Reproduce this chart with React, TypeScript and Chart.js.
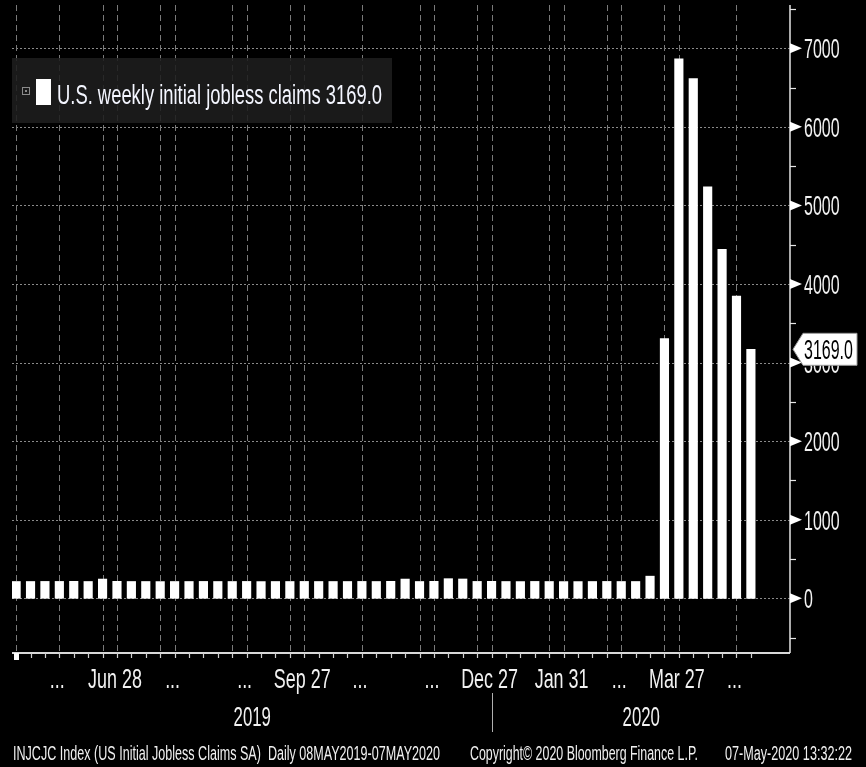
import React, { useEffect, useRef } from "react";
import { Chart, registerables } from "chart.js";

Chart.register(...registerables);

// ---------- data ----------
const START_DATE = "2019-05-08";
const END_DATE = "2020-05-20";

const weekDates = [
  "2019-05-10", "2019-05-17", "2019-05-24", "2019-05-31",
  "2019-06-07", "2019-06-14", "2019-06-21", "2019-06-28",
  "2019-07-05", "2019-07-12", "2019-07-19", "2019-07-26",
  "2019-08-02", "2019-08-09", "2019-08-16", "2019-08-23", "2019-08-30",
  "2019-09-06", "2019-09-13", "2019-09-20", "2019-09-27",
  "2019-10-04", "2019-10-11", "2019-10-18", "2019-10-25",
  "2019-11-01", "2019-11-08", "2019-11-15", "2019-11-22", "2019-11-29",
  "2019-12-06", "2019-12-13", "2019-12-20", "2019-12-27",
  "2020-01-03", "2020-01-10", "2020-01-17", "2020-01-24", "2020-01-31",
  "2020-02-07", "2020-02-14", "2020-02-21", "2020-02-28",
  "2020-03-06", "2020-03-13", "2020-03-20", "2020-03-27",
  "2020-04-03", "2020-04-10", "2020-04-17", "2020-04-24",
  "2020-05-01",
];

const claims = [
  214, 214, 215, 215,
  216, 214, 245, 216,
  214, 214, 213, 214,
  214, 215, 214, 214, 215,
  213, 214, 214, 215,
  214, 214, 214, 215,
  214, 216, 245, 214, 216,
  250, 246, 215, 216,
  214, 213, 215, 214, 213,
  213, 214, 215, 214,
  214, 282, 3307, 6867,
  6615, 5237, 4442, 3846,
  3169,
];

const seriesLabel = "U.S. weekly initial jobless claims";

const yTickValues = [0, 1000, 2000, 3000, 4000, 5000, 6000, 7000];
const yTickLabels = ["0", "1000", "2000", "3000", "4000", "5000", "6000", "7000"];
const yMinorTickValues = [-500, 500, 1500, 2500, 3500, 4500, 5500, 6500, 7500];
const Y_MIN = -696;
const Y_MAX = 7551;

const xGridDates = [
  "2019-05-10", "2019-05-31", "2019-06-21", "2019-06-28",
  "2019-07-19", "2019-07-26", "2019-08-23", "2019-08-30",
  "2019-09-20", "2019-09-27", "2019-10-25", "2019-11-22", "2019-11-29",
  "2019-12-20", "2019-12-27", "2020-01-24", "2020-01-31",
  "2020-02-21", "2020-02-28", "2020-03-20", "2020-03-27", "2020-04-24",
];

const xTickDates = [
  "2019-05-31", "2019-06-28", "2019-07-26", "2019-08-30", "2019-09-27",
  "2019-10-25", "2019-11-29", "2019-12-27", "2020-01-31", "2020-02-28",
  "2020-03-27", "2020-04-24",
];
const xTickLabels = [
  "...", "Jun 28", "...", "...", "Sep 27",
  "...", "...", "Dec 27", "Jan 31", "...",
  "Mar 27", "...",
];

const yearLabels = ["2019", "2020"];
const yearSeparatorDate = "2019-12-27";

const footerTexts = [
  "INJCJC Index (US Initial Jobless Claims SA)  Daily 08MAY2019-07MAY2020",
  "Copyright\u00A9 2020 Bloomberg Finance L.P.",
  "07-May-2020 13:32:22",
];

// ---------- helpers ----------
const DAY = 86400000;
const dayOf = (s: string) => (Date.parse(s) - Date.parse(START_DATE)) / DAY;

const FONT =
  '"Liberation Sans Narrow", "Liberation Sans", "DejaVu Sans Condensed", sans-serif';

function drawText(
  ctx: CanvasRenderingContext2D,
  s: string,
  x: number,
  y: number,
  size: number,
  sx: number,
  align: "left" | "center" | "right",
  color: string
) {
  ctx.save();
  ctx.font = `${size}px ${FONT}`;
  ctx.fillStyle = color;
  ctx.textBaseline = "alphabetic";
  ctx.textAlign = "left";
  const w = ctx.measureText(s).width * sx;
  const x0 = align === "left" ? x : align === "center" ? x - w / 2 : x - w;
  ctx.translate(x0, y);
  ctx.scale(sx, 1);
  ctx.fillText(s, 0, 0);
  ctx.restore();
}

function fitText(
  ctx: CanvasRenderingContext2D,
  s: string,
  x: number,
  y: number,
  size: number,
  width: number,
  color: string
) {
  ctx.save();
  ctx.font = `${size}px ${FONT}`;
  const m = ctx.measureText(s).width;
  ctx.restore();
  drawText(ctx, s, x, y, size, width / m, "left", color);
}

const AXIS_FONT = 28;
const Y_SX = 0.57;
const X_SX = 0.64;
const YEAR_SX = 0.6;
const TEXT = "#f2f2f2";

const bloombergPlugin = {
  id: "bloombergDecor",
  beforeDraw(chart: any) {
    const { ctx, width, height } = chart;
    ctx.save();
    ctx.fillStyle = "#000";
    ctx.fillRect(0, 0, width, height);
    ctx.restore();
  },
  beforeDatasetsDraw(chart: any) {
    const { ctx, chartArea: a, scales } = chart;
    const xs = scales.x;
    const ys = scales.y;
    ctx.save();
    // horizontal dotted gridlines
    ctx.strokeStyle = "#8a8a8a";
    ctx.lineWidth = 1;
    ctx.setLineDash([2, 2]);
    yTickValues.forEach((v) => {
      const y = Math.round(ys.getPixelForValue(v)) + 0.5;
      ctx.beginPath();
      ctx.moveTo(a.left, y);
      ctx.lineTo(a.right, y);
      ctx.stroke();
    });
    // vertical dashed gridlines
    ctx.strokeStyle = "#7a7a7a";
    ctx.setLineDash([6, 4]);
    xGridDates.forEach((d) => {
      const x = Math.round(xs.getPixelForValue(dayOf(d))) + 0.5;
      ctx.beginPath();
      ctx.moveTo(x, a.top);
      ctx.lineTo(x, a.bottom);
      ctx.stroke();
    });
    ctx.setLineDash([]);
    // legend box
    ctx.fillStyle = "rgba(30,30,30,0.88)";
    ctx.fillRect(a.left, 58, 380, 65);
    ctx.restore();
  },
  afterDatasetsDraw(chart: any) {
    const { ctx, chartArea: a, scales, width } = chart;
    const xs = scales.x;
    const ys = scales.y;
    ctx.save();

    // bottom axis line
    ctx.strokeStyle = "#d8d8d8";
    ctx.lineWidth = 2;
    ctx.beginPath();
    ctx.moveTo(a.left, a.bottom);
    ctx.lineTo(a.right, a.bottom);
    ctx.stroke();
    // weekly ticks under the axis
    ctx.lineWidth = 1.2;
    ctx.strokeStyle = "#cfcfcf";
    weekDates.forEach((d) => {
      const x = Math.round(xs.getPixelForValue(dayOf(d))) + 0.5;
      if (x < a.left) return;
      ctx.beginPath();
      ctx.moveTo(x, a.bottom);
      ctx.lineTo(x, a.bottom + 5);
      ctx.stroke();
    });
    ctx.fillStyle = "#ffffff";
    ctx.fillRect(a.left + 2, a.bottom, 5, 7);

    // right axis line
    ctx.strokeStyle = "#e6e6e6";
    ctx.lineWidth = 1.5;
    ctx.beginPath();
    ctx.moveTo(a.right, a.top);
    ctx.lineTo(a.right, a.bottom);
    ctx.stroke();
    // minor ticks
    ctx.lineWidth = 1.2;
    yMinorTickValues.forEach((v) => {
      const y = Math.round(ys.getPixelForValue(v)) + 0.5;
      ctx.beginPath();
      ctx.moveTo(a.right, y);
      ctx.lineTo(a.right + 6, y);
      ctx.stroke();
    });
    // major tick triangles + labels
    yTickValues.forEach((v, i) => {
      const y = ys.getPixelForValue(v);
      ctx.fillStyle = "#ffffff";
      ctx.beginPath();
      ctx.moveTo(a.right, y - 5);
      ctx.lineTo(a.right + 12, y);
      ctx.lineTo(a.right, y + 5);
      ctx.closePath();
      ctx.fill();
      drawText(ctx, yTickLabels[i], a.right + 14, y + 10, AXIS_FONT, Y_SX, "left", TEXT);
    });

    // current value box
    const last = claims[claims.length - 1];
    const vy = ys.getPixelForValue(last);
    const bx = a.right + 3;
    ctx.fillStyle = "#ffffff";
    ctx.strokeStyle = "#9a9a9a";
    ctx.lineWidth = 1;
    ctx.beginPath();
    ctx.moveTo(bx, vy);
    ctx.lineTo(bx + 10, vy - 16);
    ctx.lineTo(width - 9, vy - 16);
    ctx.lineTo(width - 9, vy + 16);
    ctx.lineTo(bx + 10, vy + 16);
    ctx.closePath();
    ctx.fill();
    ctx.stroke();
    drawText(ctx, last.toFixed(1), bx + 11, vy + 10, AXIS_FONT, Y_SX, "left", "#000000");

    // x tick labels
    xTickDates.forEach((d, i) => {
      const x = xs.getPixelForValue(dayOf(d));
      drawText(ctx, xTickLabels[i], x - 2, 688, AXIS_FONT, X_SX, "center", TEXT);
    });

    // year labels & separator
    const sepX = Math.round(xs.getPixelForValue(dayOf(yearSeparatorDate))) + 0.5;
    ctx.strokeStyle = "#b0b0b0";
    ctx.lineWidth = 1;
    ctx.beginPath();
    ctx.moveTo(sepX, 693);
    ctx.lineTo(sepX, 732);
    ctx.stroke();
    drawText(ctx, yearLabels[0], (a.left + sepX) / 2, 726, AXIS_FONT, YEAR_SX, "center", TEXT);
    drawText(ctx, yearLabels[1], (sepX + a.right) / 2, 726, AXIS_FONT, YEAR_SX, "center", TEXT);

    // legend contents
    ctx.strokeStyle = "#8a8a8a";
    ctx.lineWidth = 1;
    ctx.strokeRect(22.5, 87.5, 7, 7);
    ctx.fillStyle = "#8a8a8a";
    ctx.fillRect(25, 90, 2, 2);
    ctx.fillStyle = "#ffffff";
    ctx.fillRect(36, 79, 15, 26);
    fitText(ctx, `${seriesLabel} ${last.toFixed(1)}`, 57, 104, 27, 325, "#f4f6ff");

    // footer
    fitText(ctx, footerTexts[0], 13, 760, 20, 427, "#f0f0f0");
    fitText(ctx, footerTexts[1], 470, 760, 20, 228, "#f0f0f0");
    fitText(ctx, footerTexts[2], 725, 760, 20, 127, "#f0f0f0");

    ctx.restore();
  },
};

export default function App() {
  const ref = useRef<HTMLCanvasElement | null>(null);
  useEffect(() => {
    if (!ref.current) return;
    const chart = new Chart(ref.current, {
      type: "bar",
      data: {
        datasets: [
          {
            label: seriesLabel,
            data: weekDates.map((d, i) => ({ x: dayOf(d), y: claims[i] })),
            backgroundColor: "#ffffff",
            borderWidth: 0,
            barThickness: 8.5,
          },
        ],
      },
      options: {
        animation: false,
        responsive: true,
        maintainAspectRatio: false,
        layout: { padding: { left: 12, right: 76, top: 5, bottom: 114 } },
        plugins: { legend: { display: false }, tooltip: { enabled: false } },
        scales: {
          x: { type: "linear", display: false, offset: false, min: 0, max: dayOf(END_DATE) },
          y: { type: "linear", display: false, min: Y_MIN, max: Y_MAX },
        },
      } as any,
      plugins: [bloombergPlugin],
    });
    return () => chart.destroy();
  }, []);
  return (
    <div style={{ position: "fixed", left: 0, top: 0, width: 866, height: 767, background: "#000" }}>
      <canvas ref={ref} />
    </div>
  );
}
